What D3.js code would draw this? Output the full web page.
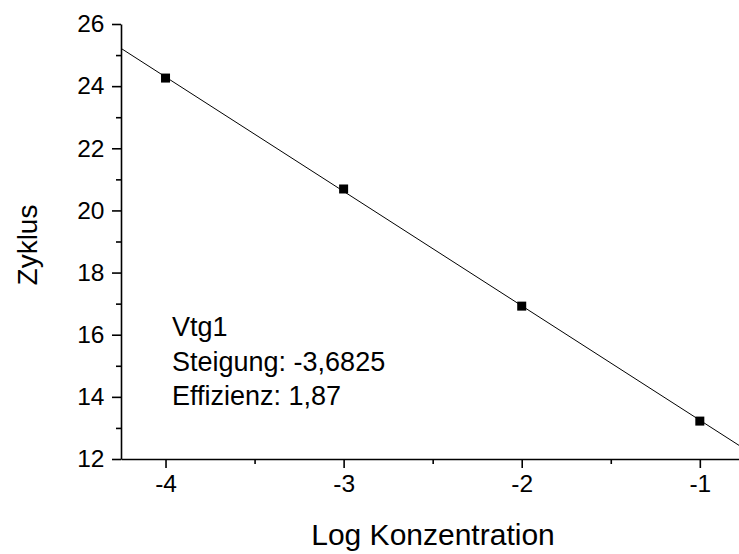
<!DOCTYPE html>
<html>
<head>
<meta charset="utf-8">
<script src="https://cdn.jsdelivr.net/npm/d3@7"></script>
<style>
  html, body { margin: 0; padding: 0; background: #fff; }
  svg { display: block; font-family: "Liberation Sans", Arial, sans-serif; }
</style>
</head>
<body>
<script>
// Standard curve: log concentration vs. cycle number
const logConc = [-4, -3, -2, -1];
const cycles = [24.26, 20.69, 16.92, 13.22];
const slope = -3.6825;
const efficiency = 1.87;
const geneName = "Vtg1";
const xTicks = [-4, -3, -2, -1];
const xMinorTicks = [-3.5, -2.5, -1.5];
const yTicks = [12, 14, 16, 18, 20, 22, 24, 26];
const yMinorTicks = [13, 15, 17, 19, 21, 23, 25];

const W = 739, H = 554;
const svg = d3.select("body").append("svg").attr("width", W).attr("height", H);

const x = d3.scaleLinear().domain([-4.25, -0.78]).range([121, 739]);
const y = d3.scaleLinear().domain([12, 26]).range([459, 24]);

// Regression line through the mean point with the reported slope
const mx = d3.mean(logConc), my = d3.mean(cycles);
const intercept = my - slope * mx;
const fit = v => intercept + slope * v;
const xd = x.domain();
svg.append("line")
  .attr("x1", x(xd[0])).attr("y1", y(fit(xd[0])))
  .attr("x2", x(xd[1])).attr("y2", y(fit(xd[1])))
  .attr("stroke", "#000").attr("stroke-width", 1);

// Axes
const tickFont = "24.5px";
const yAxis = svg.append("g").attr("transform", `translate(${x.range()[0]},0)`)
  .call(d3.axisLeft(y).tickValues(yTicks).tickSize(9).tickPadding(7.5).tickSizeOuter(0));
const yMinor = svg.append("g").attr("transform", `translate(${x.range()[0]},0)`)
  .call(d3.axisLeft(y).tickValues(yMinorTicks).tickSize(5).tickFormat("").tickSizeOuter(0));
const xAxis = svg.append("g").attr("transform", `translate(0,${y.range()[0]})`)
  .call(d3.axisBottom(x).tickValues(xTicks).tickSize(9).tickPadding(7).tickSizeOuter(0)
    .tickFormat(d => d3.format("d")(d).replace("−", "-")));
const xMinor = svg.append("g").attr("transform", `translate(0,${y.range()[0]})`)
  .call(d3.axisBottom(x).tickValues(xMinorTicks).tickSize(5).tickFormat("").tickSizeOuter(0));

[yAxis, yMinor, xAxis, xMinor].forEach(g => {
  g.selectAll(".domain").attr("stroke", "#000").attr("stroke-width", 1.6);
  g.selectAll(".tick line").attr("stroke", "#000").attr("stroke-width", 1.6);
  g.selectAll("text").attr("fill", "#000").style("font-size", tickFont)
    .style("font-family", "'Liberation Sans', Arial, sans-serif");
});
yMinor.select(".domain").remove();
xMinor.select(".domain").remove();

// Data points
svg.append("g").selectAll("rect").data(logConc).join("rect")
  .attr("x", (d) => x(d) - 4.5)
  .attr("y", (d, i) => y(cycles[i]) - 4.5)
  .attr("width", 9).attr("height", 9)
  .attr("fill", "#000");

// Axis titles
svg.append("text")
  .attr("x", 433).attr("y", 545)
  .attr("text-anchor", "middle")
  .style("font-size", "30px")
  .text("Log Konzentration");
svg.append("text")
  .attr("transform", "translate(37,245) rotate(-90)")
  .attr("text-anchor", "middle")
  .style("font-size", "28px")
  .text("Zyklus");

// Annotation
const fmt = v => String(v).replace(".", ",");
const notes = [geneName, `Steigung: ${fmt(slope)}`, `Effizienz: ${fmt(efficiency)}`];
svg.append("g").selectAll("text").data(notes).join("text")
  .attr("x", 172)
  .attr("y", (d, i) => 336 + i * 34.5)
  .style("font-size", "27px")
  .text(d => d);
</script>
</body>
</html>
